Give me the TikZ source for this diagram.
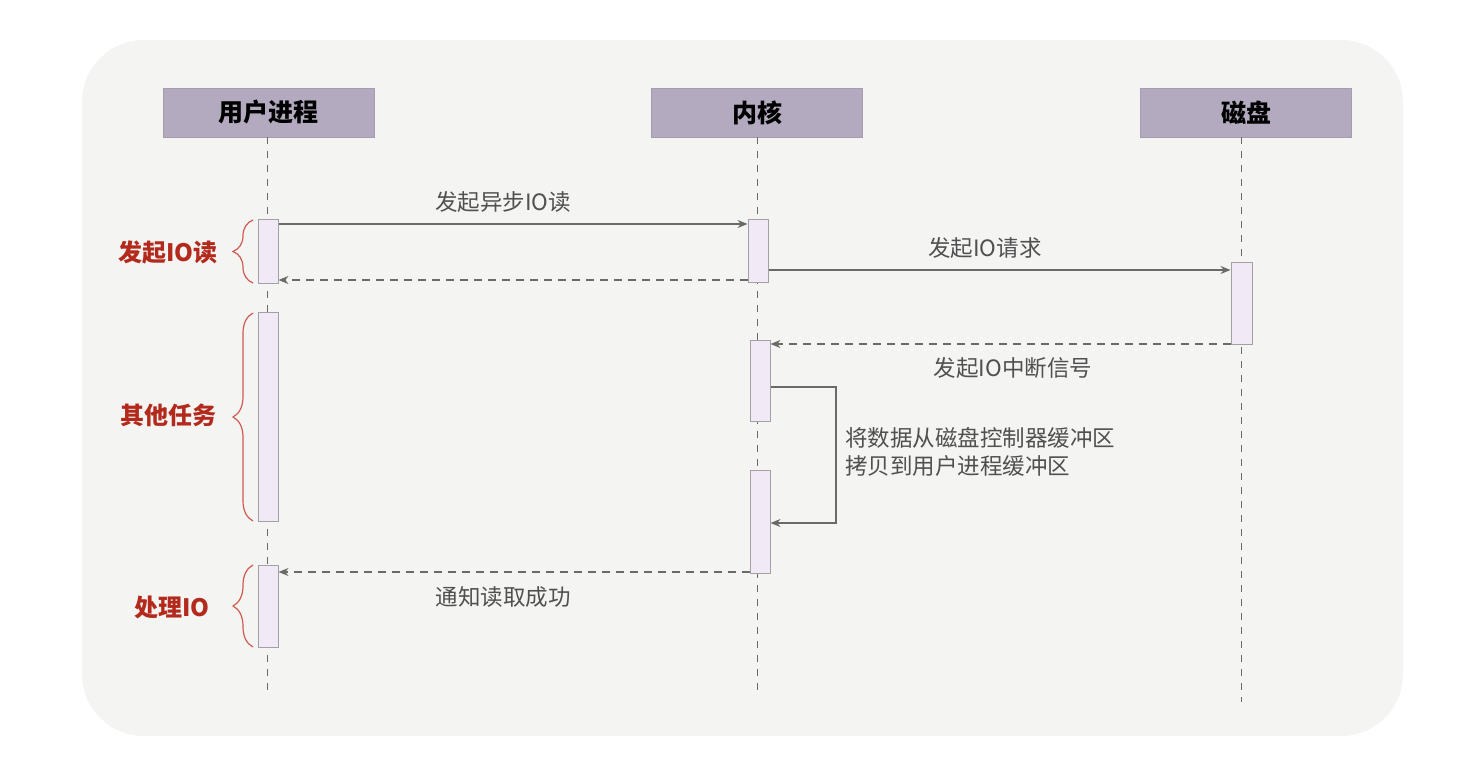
\documentclass[tikz,border=0pt]{standalone}
\usepackage{fontspec}
\setmainfont{Noto Sans CJK SC}
\usetikzlibrary{decorations.pathreplacing,arrows.meta}
\definecolor{bgpanel}{HTML}{F4F4F3}
\definecolor{headfill}{HTML}{B3AABF}
\definecolor{headdraw}{HTML}{A59CB0}
\definecolor{actfill}{HTML}{F1EAF6}
\definecolor{actdraw}{HTML}{A2A0A4}
\definecolor{linegray}{HTML}{6A6A6A}
\definecolor{textgray}{HTML}{505050}
\definecolor{redtext}{HTML}{B32A1C}
\definecolor{bracered}{HTML}{CF5A50}
\tikzset{
  head/.style={draw=headdraw, fill=headfill, minimum width=211pt, minimum height=49pt, inner sep=0pt, font=\fontsize{25}{30}\selectfont\bfseries},
  act/.style={draw=actdraw, fill=actfill, line width=1pt, minimum width=20pt, inner sep=0pt, anchor=north},
  life/.style={draw=linegray, line width=1pt, dash pattern=on 7pt off 7pt},
  msg/.style={draw=linegray, line width=1.3pt, -{Stealth[length=10pt,width=8pt]}},
  ret/.style={msg, dash pattern=on 8pt off 6pt},
  lbl/.style={text=textgray, font=\fontsize{22.5}{28}\selectfont, inner sep=0pt},
  side/.style={text=redtext, font=\fontsize{24}{28}\selectfont\bfseries, inner sep=0pt},
  brc/.style={draw=bracered, line width=1.2pt, decorate, decoration={brace, amplitude=20pt, aspect=0.5}}
}
\begin{document}
\begin{tikzpicture}[x=1pt,y=-1pt]
\useasboundingbox (0,0) rectangle (1464,778);
\fill[white] (0,0) rectangle (1464,778);
\fill[bgpanel, rounded corners=62pt] (82,40) rectangle (1403,736);
% headers
\node[head] (hu) at (268.5,112.5) {用户进程};
\node[head] (hk) at (757,112.5) {内核};
\node[head] (hd) at (1246,112.5) {磁盘};
% lifelines
\coordinate (eu) at (267,697);
\coordinate (ek) at (757,695);
\coordinate (ed) at (1241,702);
\draw[life] (hu.south -| eu) -- (eu);
\draw[life] (hk.south -| ek) -- (ek);
\draw[life] (hd.south -| ed) -- (ed);
% activations
\node[act, minimum height=64pt] (u1) at (268,219) {};
\node[act, minimum height=209pt] (u2) at (268,312) {};
\node[act, minimum height=82pt] (u3) at (268,565) {};
\node[act, minimum height=63pt] (k1) at (758,219) {};
\node[act, minimum height=81pt] (k2) at (760,340) {};
\node[act, minimum height=103pt] (k3) at (760,470) {};
\node[act, minimum width=21pt, minimum height=82pt] (d1) at (1241.5,262) {};
% messages
\draw[msg] (u1.east |- 0,224) -- (k1.west |- 0,224);
\node[lbl] (m1) at (503,202) {发起异步IO读};
\draw[ret] (k1.west |- 0,280) -- (u1.east |- 0,280);
\draw[msg] (k1.east |- 0,270) -- (d1.west |- 0,270);
\node[lbl] (m2) at (985,248) {发起IO请求};
\draw[ret] (d1.west |- 0,344) -- (k2.east |- 0,344);
\node[lbl] (m3) at (1013,368) {发起IO中断信号};
\coordinate (lp1) at (836,387);
\coordinate (lp2) at (836,523);
\draw[msg] (k2.east |- lp1) -- (lp1) -- (lp2) -- (k3.east |- lp2);
\node[lbl, anchor=west, align=left] (m4) at (845,452) {将数据从磁盘控制器缓冲区\\拷贝到用户进程缓冲区};
\draw[ret] (k3.west |- 0,572) -- (u3.east |- 0,572);
\node[lbl] (m5) at (503,597) {通知读取成功};
% braces and side labels
\draw[brc] (253,283) -- (253,220);
\draw[brc] (253,521) -- (253,313);
\draw[brc] (253,647) -- (253,565);
\node[side] (s1) at (168,252) {发起IO读};
\node[side] (s2) at (168,415) {其他任务};
\node[side] (s3) at (172,607) {处理IO};
\end{tikzpicture}
\end{document}
